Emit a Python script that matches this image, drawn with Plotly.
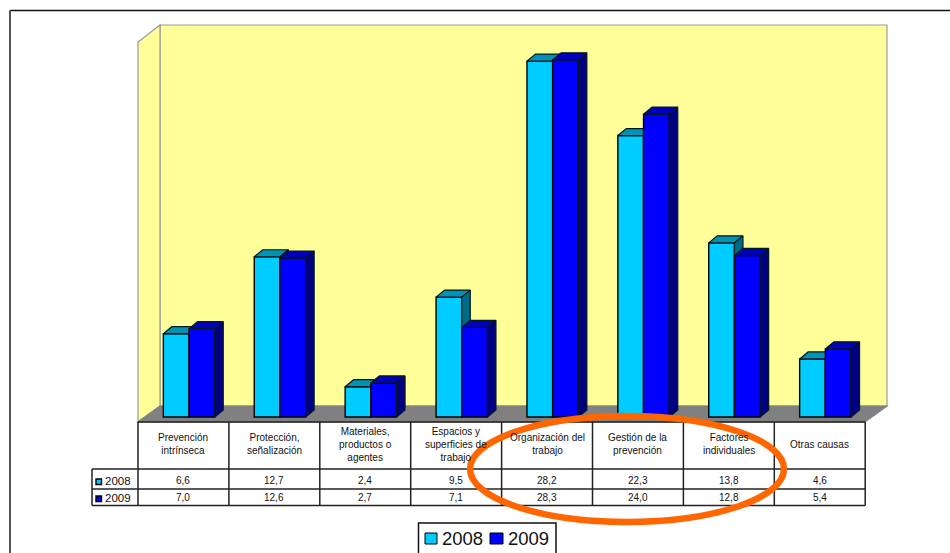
import plotly.graph_objects as go

WIDTH, HEIGHT = 950, 553

categories = [
    "Prevención<br>intrínseca",
    "Protección,<br>señalización",
    "Materiales,<br>productos o<br>agentes",
    "Espacios y<br>superficies de<br>trabajo",
    "Organización del<br>trabajo",
    "Gestión de la<br>prevención",
    "Factores<br>individuales",
    "Otras causas",
]
values_2008 = [6.6, 12.7, 2.4, 9.5, 28.2, 22.3, 13.8, 4.6]
values_2009 = [7.0, 12.6, 2.7, 7.1, 28.3, 24.0, 12.8, 5.4]
labels_2008 = ["6,6", "12,7", "2,4", "9,5", "28,2", "22,3", "13,8", "4,6"]
labels_2009 = ["7,0", "12,6", "2,7", "7,1", "28,3", "24,0", "12,8", "5,4"]

COL_LEFT, COL_W = 138, 90.9      # table column geometry, px
BASE_Y, PX_PER_UNIT = 417, 12.62  # bar baseline and vertical scale, px
BAR_W = 25.7 / COL_W
GROUP_SHIFT = 5.6 / COL_W
DEPTH_X = 8.5 / COL_W
DEPTH_Y = 7 / PX_PER_UNIT

FONT = "Liberation Sans"
TEXT = "#111111"
LINE = "#222222"


def px(x):
    return x / WIDTH


def py(y):
    return 1 - y / HEIGHT


def rect(x0, y0, x1, y1, **kw):
    return dict(type="rect", xref="paper", yref="paper",
                x0=px(x0), x1=px(x1), y0=py(y0), y1=py(y1), **kw)


def seg(x0, y0, x1, y1, color=LINE, width=1.5):
    return dict(type="line", xref="paper", yref="paper",
                x0=px(x0), x1=px(x1), y0=py(y0), y1=py(y1),
                line=dict(color=color, width=width))


def poly(points, fill, color="#9a9a9a"):
    path = "M " + " L ".join(f"{px(a):.5f},{py(b):.5f}" for a, b in points) + " Z"
    return dict(type="path", xref="paper", yref="paper", path=path, fillcolor=fill,
                line=dict(color=color, width=1.2), layer="below")


def faces(values, centres):
    """Polygons for the top and right-hand faces of the extruded bars."""
    tx, ty, sx, sy = [], [], [], []
    for c, v in zip(centres, values):
        l, r = c - BAR_W / 2, c + BAR_W / 2
        tx += [l, l + DEPTH_X, r + DEPTH_X, r, l, None]
        ty += [v, v + DEPTH_Y, v + DEPTH_Y, v, v, None]
        sx += [r, r + DEPTH_X, r + DEPTH_X, r, r, None]
        sy += [v, v + DEPTH_Y, DEPTH_Y, 0, v, None]
    return tx, ty, sx, sy


def series(name, values, centres, front, top, side, yaxis):
    tx, ty, sx, sy = faces(values, centres)
    edge = dict(color="#05181f", width=1.2)
    return [
        go.Bar(x=centres, y=values, width=BAR_W, name=name, yaxis=yaxis, showlegend=False,
               marker=dict(color=front, line=dict(color="#000000", width=1.4))),
        go.Scatter(x=tx, y=ty, mode="lines", fill="toself", fillcolor=top, line=edge,
                   yaxis=yaxis, showlegend=False, hoverinfo="skip"),
        go.Scatter(x=sx, y=sy, mode="lines", fill="toself", fillcolor=side, line=edge,
                   yaxis=yaxis, showlegend=False, hoverinfo="skip"),
    ]


n = len(categories)
centres_2008 = [i + 0.5 + GROUP_SHIFT - BAR_W / 2 for i in range(n)]
centres_2009 = [i + 0.5 + GROUP_SHIFT + BAR_W / 2 for i in range(n)]

fig = go.Figure()
# The second series sits on an overlaid axis so its faces cover those of the first.
for tr in series("2008", values_2008, centres_2008, "#00CCFF", "#0093B3", "#006B85", "y"):
    fig.add_trace(tr)
for tr in series("2009", values_2009, centres_2009, "#0000FF", "#0000BF", "#000080", "y2"):
    fig.add_trace(tr)

x_range = [-COL_LEFT / COL_W, (WIDTH - COL_LEFT) / COL_W]
y_range = [(BASE_Y - HEIGHT) / PX_PER_UNIT, BASE_Y / PX_PER_UNIT]
hidden = dict(visible=False, fixedrange=True, showgrid=False, zeroline=False)

shapes = [
    # page frame
    seg(10, 10.5, 950, 10.5, "#111111", 1.6),
    seg(10, 10.5, 10, 553, "#555555", 2),
    # chart walls and floor
    poly([(160, 25), (887, 25), (887, 406), (160, 406)], "#FFFF99"),
    poly([(138, 42), (160, 25), (160, 406), (138, 422)], "#FFFF99"),
    poly([(138, 422), (160, 406), (887, 406), (865, 422)], "#808080", "#808080"),
]

# data table rules
table_right = COL_LEFT + n * COL_W
shapes += [
    seg(COL_LEFT, 422, table_right, 422),
    seg(92, 469, table_right, 469),
    seg(92, 489, table_right, 489),
    seg(92, 505.5, table_right, 505.5),
    seg(92, 469, 92, 505.5),
]
for i in range(n + 1):
    edge_x = COL_LEFT + i * COL_W
    shapes.append(seg(edge_x, 422, edge_x, 505.5))

# legend keys inside the table
shapes += [
    rect(96, 479, 101.5, 484.5, fillcolor="#00CCFF", line=dict(color="#000000", width=1.4)),
    rect(96, 496, 101.5, 501.5, fillcolor="#0000FF", line=dict(color="#000000", width=1.4)),
]

# chart legend box with its keys
shapes += [
    rect(418.5, 523, 556, 556, fillcolor="white", line=dict(color="#111111", width=1.5)),
    rect(425, 533, 437, 544, fillcolor="#00CCFF", line=dict(color="#000000", width=1)),
    rect(490, 533, 503, 544, fillcolor="#0000FF", line=dict(color="#000000", width=1)),
]

# highlight ellipse across the table
shapes.append(dict(type="circle", xref="paper", yref="paper",
                   x0=px(470), x1=px(784), y0=py(522), y1=py(416),
                   line=dict(color="#FF6600", width=6.5)))


def note(x, y, text, size=10, anchor="center"):
    return dict(xref="paper", yref="paper", x=px(x), y=py(y), text=text, showarrow=False,
                xanchor=anchor, yanchor="middle", align="center", borderpad=0,
                font=dict(family=FONT, size=size, color=TEXT))


annotations = []
for i, cat in enumerate(categories):
    cx = COL_LEFT + (i + 0.5) * COL_W
    lines = cat.count("<br>") + 1
    annotations.append(note(cx, 444.5 if lines != 2 else 443.5, cat))
    annotations.append(note(cx, 480, labels_2008[i]))
    annotations.append(note(cx, 497, labels_2009[i]))
annotations.append(note(104, 481, "2008", 11.5, "left"))
annotations.append(note(104, 498, "2009", 11.5, "left"))
annotations.append(note(441, 538, "2008", 18.5, "left"))
annotations.append(note(507, 538, "2009", 18.5, "left"))

fig.update_layout(
    width=WIDTH, height=HEIGHT, margin=dict(l=0, r=0, t=0, b=0, autoexpand=False),
    paper_bgcolor="white", plot_bgcolor="rgba(0,0,0,0)",
    barmode="overlay", hovermode=False, showlegend=False,
    xaxis=dict(range=x_range, domain=[0, 1], **hidden),
    yaxis=dict(range=y_range, domain=[0, 1], **hidden),
    yaxis2=dict(range=y_range, domain=[0, 1], overlaying="y", **hidden),
    shapes=shapes, annotations=annotations,
)

fig.write_html("out.html", config=dict(displayModeBar=False))
